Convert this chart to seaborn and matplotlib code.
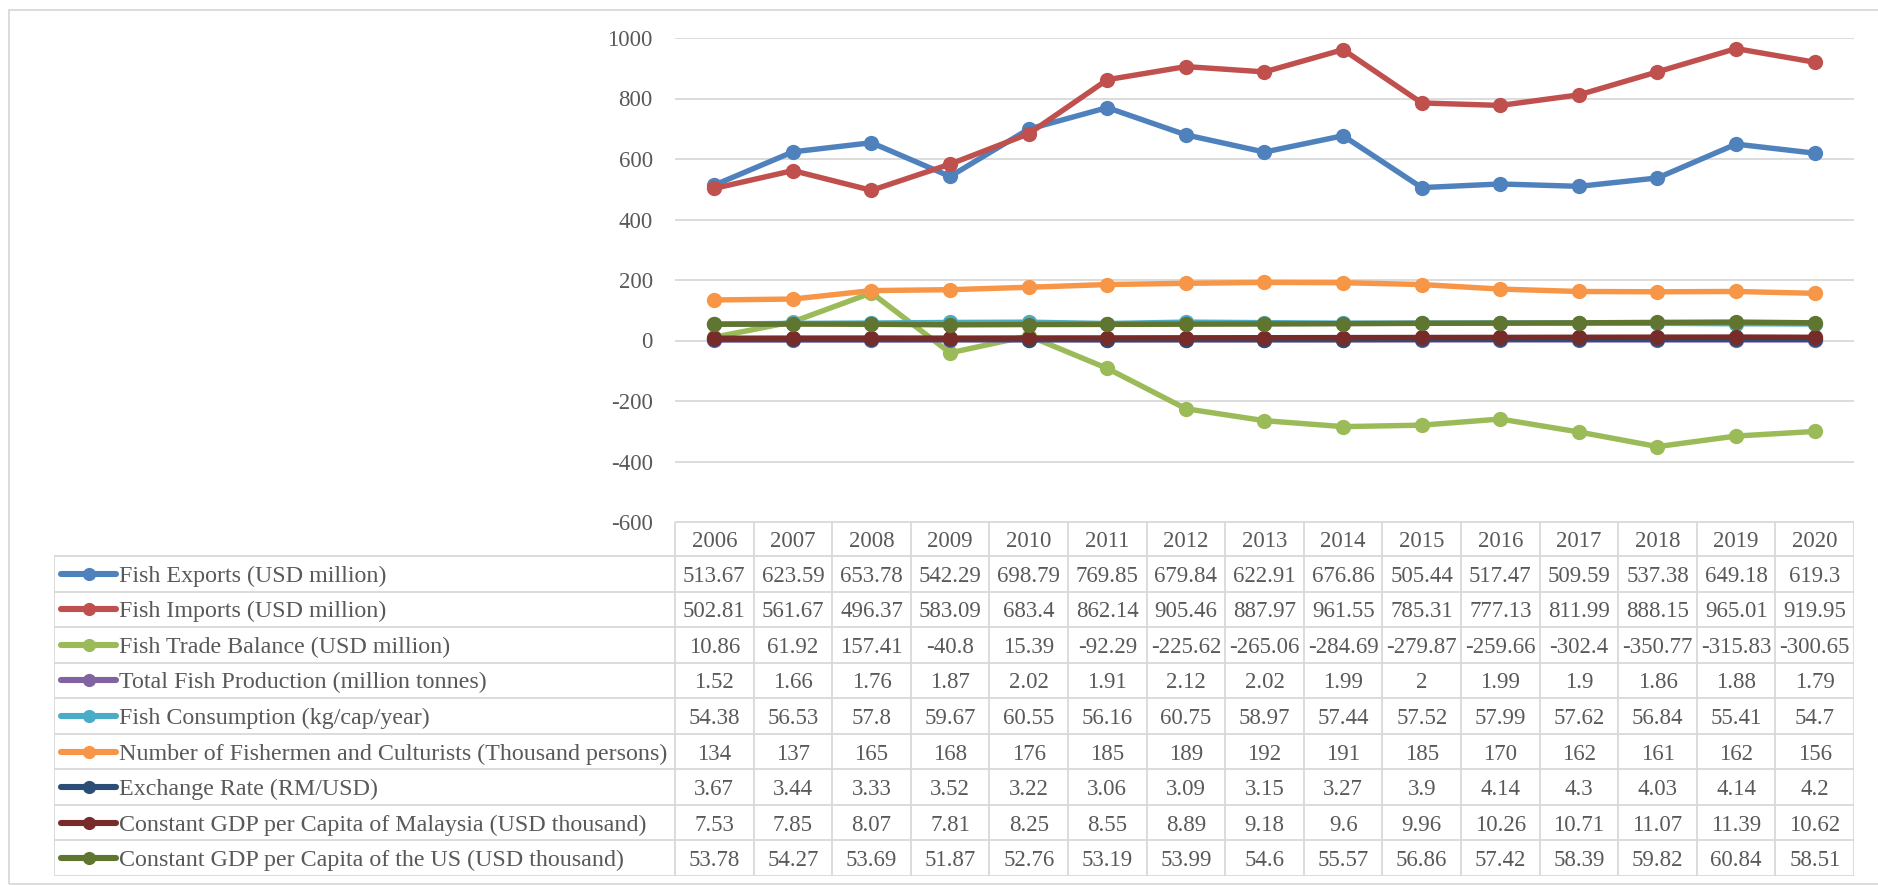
import numpy as np
import pandas as pd
import matplotlib
matplotlib.use("Agg")
import matplotlib.pyplot as plt
import seaborn as sns
from matplotlib.patches import Rectangle

years = [2006, 2007, 2008, 2009, 2010, 2011, 2012, 2013, 2014, 2015, 2016, 2017, 2018, 2019, 2020]

series_names = [
    "Fish Exports (USD million)",
    "Fish Imports (USD million)",
    "Fish Trade Balance (USD million)",
    "Total Fish Production (million tonnes)",
    "Fish Consumption (kg/cap/year)",
    "Number of Fishermen and Culturists (Thousand persons)",
    "Exchange Rate (RM/USD)",
    "Constant GDP per Capita of Malaysia (USD thousand)",
    "Constant GDP per Capita of the US (USD thousand)",
]

fish_exports = [513.67, 623.59, 653.78, 542.29, 698.79, 769.85, 679.84, 622.91, 676.86, 505.44, 517.47, 509.59, 537.38, 649.18, 619.3]
fish_imports = [502.81, 561.67, 496.37, 583.09, 683.4, 862.14, 905.46, 887.97, 961.55, 785.31, 777.13, 811.99, 888.15, 965.01, 919.95]
trade_balance = [10.86, 61.92, 157.41, -40.8, 15.39, -92.29, -225.62, -265.06, -284.69, -279.87, -259.66, -302.4, -350.77, -315.83, -300.65]
fish_production = [1.52, 1.66, 1.76, 1.87, 2.02, 1.91, 2.12, 2.02, 1.99, 2, 1.99, 1.9, 1.86, 1.88, 1.79]
fish_consumption = [54.38, 56.53, 57.8, 59.67, 60.55, 56.16, 60.75, 58.97, 57.44, 57.52, 57.99, 57.62, 56.84, 55.41, 54.7]
fishermen = [134, 137, 165, 168, 176, 185, 189, 192, 191, 185, 170, 162, 161, 162, 156]
exchange_rate = [3.67, 3.44, 3.33, 3.52, 3.22, 3.06, 3.09, 3.15, 3.27, 3.9, 4.14, 4.3, 4.03, 4.14, 4.2]
gdp_malaysia = [7.53, 7.85, 8.07, 7.81, 8.25, 8.55, 8.89, 9.18, 9.6, 9.96, 10.26, 10.71, 11.07, 11.39, 10.62]
gdp_us = [53.78, 54.27, 53.69, 51.87, 52.76, 53.19, 53.99, 54.6, 55.57, 56.86, 57.42, 58.39, 59.82, 60.84, 58.51]

series_values = [fish_exports, fish_imports, trade_balance, fish_production, fish_consumption,
                 fishermen, exchange_rate, gdp_malaysia, gdp_us]
colors = ["#4F81BD", "#C0504D", "#9BBB59", "#8064A2", "#4BACC6", "#F79646",
          "#2C4D75", "#772C2A", "#5F7530"]
y_ticks = [-600, -400, -200, 0, 200, 400, 600, 800, 1000]

sns.set_theme(style="white")
plt.rcParams["font.family"] = ["Liberation Serif", "DejaVu Serif"]
TXT = "#595959"
GRID = "#D9D9D9"
FS = 16.5
FS_LBL = 17.3

W, H = 1878, 885
fig = plt.figure(figsize=(W / 100, H / 100), dpi=100)

# layout in pixels
X0, X1 = 675, 1854          # year columns / plot area
Y_TOP, Y_AX_BOT = 38, 522   # plot area
LBL_L = 54
T_BOT = 876
HDR_H = 34
ncol = len(years)
colw = (X1 - X0) / ncol

def fx(px):
    return px / W

def fy(py):
    return 1 - py / H

# outer chart border
fig.patches.append(Rectangle((fx(9), fy(884)), fx(1900) - fx(9), fy(10) - fy(884),
                             transform=fig.transFigure, fill=False, edgecolor=GRID,
                             linewidth=1.3, zorder=0))

# ---- main chart ----
ax = fig.add_axes([fx(X0), fy(Y_AX_BOT), fx(X1) - fx(X0), fy(Y_TOP) - fy(Y_AX_BOT)])
idx = np.arange(ncol)
for i, (name, vals, c) in enumerate(zip(series_names, series_values, colors)):
    df = pd.DataFrame({"x": idx, "y": vals})
    sns.lineplot(data=df, x="x", y="y", ax=ax, color=c, linewidth=3.9,
                 marker="o", markersize=11, markeredgewidth=0, zorder=3 + i,
                 solid_capstyle="round")
ax.set_xlim(-0.5, ncol - 0.5)
ax.set_ylim(-600, 1000)
ax.set_yticks(y_ticks)
ax.set_yticklabels([str(t) for t in y_ticks])
ax.set_xticks([])
ax.grid(axis="y", color=GRID, linewidth=1.3)
ax.set_axisbelow(True)
for s in ax.spines.values():
    s.set_visible(False)
ax.tick_params(axis="y", length=0, pad=16, labelsize=FS, labelcolor=TXT)
ax.set_xlabel("")
ax.set_ylabel("")
ax.patch.set_alpha(0)

# ---- data table ----
tax = fig.add_axes([fx(LBL_L), fy(T_BOT), fx(X1) - fx(LBL_L), fy(Y_AX_BOT) - fy(T_BOT)])
lbl_w = (X0 - LBL_L) / colw
hdr = HDR_H / ((T_BOT - Y_AX_BOT - HDR_H) / len(series_names))
nrow = len(series_names)
tax.set_xlim(-0.5 - lbl_w, ncol - 0.5)
tax.set_ylim(nrow, -hdr)
tax.axis("off")

lkw = dict(color=GRID, linewidth=1.3, solid_capstyle="butt")
tax.plot([-0.5, ncol - 0.5], [-hdr, -hdr], **lkw)
for r in range(nrow + 1):
    tax.plot([-0.5 - lbl_w, ncol - 0.5], [r, r], **lkw)
tax.plot([-0.5 - lbl_w, -0.5 - lbl_w], [0, nrow], **lkw)
for cidx in range(ncol + 1):
    tax.plot([cidx - 0.5, cidx - 0.5], [-hdr, nrow], **lkw)

for cidx, yr in enumerate(years):
    tax.text(cidx, -hdr / 2, str(yr), ha="center", va="center_baseline", fontsize=FS, color=TXT)

def fmt(v):
    return "{:g}".format(v)

k0 = -0.5 - lbl_w + (61 - LBL_L) / colw
k1 = -0.5 - lbl_w + (116 - LBL_L) / colw
kt = -0.5 - lbl_w + (119 - LBL_L) / colw
for r, (name, vals, c) in enumerate(zip(series_names, series_values, colors)):
    yc = r + 0.5
    tax.plot([k0, k1], [yc, yc], color=c, linewidth=4.4, solid_capstyle="round")
    tax.plot([(k0 + k1) / 2], [yc], marker="o", color=c, markersize=9.5, markeredgewidth=0)
    tax.text(kt, yc, name, ha="left", va="center_baseline", fontsize=FS_LBL, color=TXT)
    for cidx, v in enumerate(vals):
        tax.text(cidx, yc, fmt(v), ha="center", va="center_baseline", fontsize=FS, color=TXT)

fig.savefig("out.png", dpi=100)
